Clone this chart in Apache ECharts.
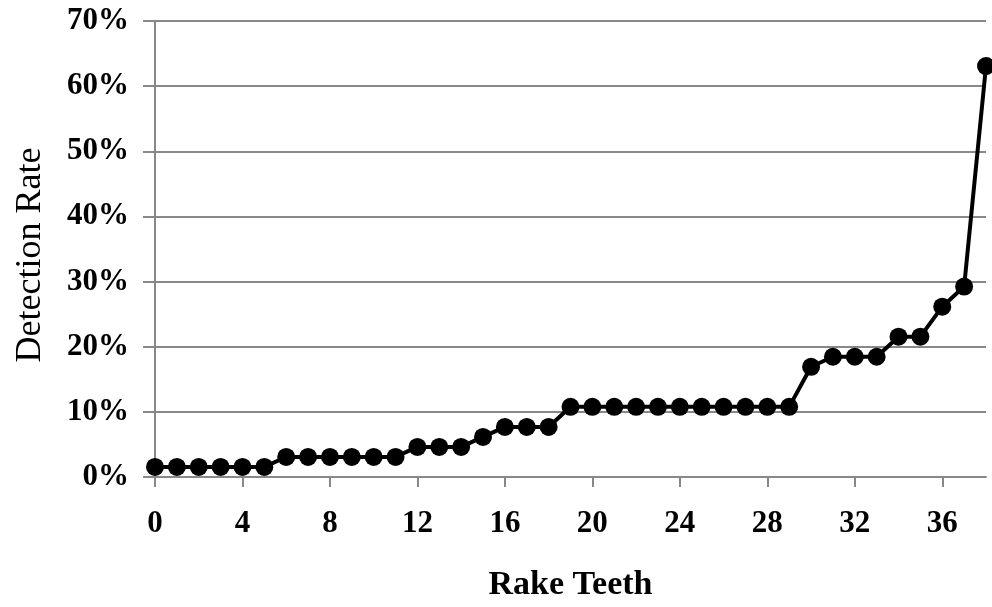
<!DOCTYPE html>
<html>
<head>
<meta charset="utf-8">
<script src="https://cdn.jsdelivr.net/npm/echarts@6/dist/echarts.min.js"></script>
<style>
html,body{margin:0;padding:0;background:#fff;}
#chart{width:992px;height:607px;}
</style>
</head>
<body>
<div id="chart"></div>
<script>
var categories = ['0','1','2','3','4','5','6','7','8','9','10','11','12','13','14','15','16','17','18','19','20','21','22','23','24','25','26','27','28','29','30','31','32','33','34','35','36','37','38'];
var detectionRate = [1.54,1.54,1.54,1.54,1.54,1.54,3.08,3.08,3.08,3.08,3.08,3.08,4.62,4.62,4.62,6.15,7.69,7.69,7.69,10.77,10.77,10.77,10.77,10.77,10.77,10.77,10.77,10.77,10.77,10.77,16.92,18.46,18.46,18.46,21.54,21.54,26.15,29.23,63.08];
var xTitle = 'Rake Teeth';
var yTitle = 'Detection Rate';

var gray = '#888888';
var font = '"Liberation Serif", "Times New Roman", serif';
var chart = echarts.init(document.getElementById('chart'));
chart.setOption({
  animation: false,
  backgroundColor: '#ffffff',
  grid: {left: 155, right: 6, top: 21, bottom: 128, containLabel: false},
  xAxis: {
    type: 'category',
    data: categories,
    boundaryGap: false,
    name: xTitle,
    nameLocation: 'middle',
    nameGap: 91,
    nameTextStyle: {fontFamily: font, fontWeight: 'bold', fontSize: 34, color: '#000'},
    axisLine: {show: true, lineStyle: {color: gray, width: 2}},
    axisTick: {show: true, interval: 3, length: 10, lineStyle: {color: gray, width: 2}},
    axisLabel: {interval: 3, margin: 31, fontFamily: font, fontWeight: 'bold', fontSize: 31, color: '#000'},
    splitLine: {show: false}
  },
  yAxis: {
    type: 'value',
    min: 0, max: 70, interval: 10,
    name: yTitle,
    nameLocation: 'middle',
    nameGap: 106,
    nameRotate: 90,
    nameTextStyle: {fontFamily: font, fontWeight: 'normal', fontSize: 36, color: '#000', padding: [0, 12, 0, 0]},
    axisLine: {show: true, lineStyle: {color: gray, width: 2}},
    axisTick: {show: true, length: 12, lineStyle: {color: gray, width: 2}},
    axisLabel: {formatter: '{value}%', margin: 26, padding: [4, 0, 0, 0], fontFamily: font, fontWeight: 'bold', fontSize: 31, color: '#000'},
    splitLine: {show: true, lineStyle: {color: gray, width: 2}}
  },
  series: [{
    type: 'line',
    data: detectionRate,
    symbol: 'circle',
    symbolSize: 18,
    showAllSymbol: true,
    lineStyle: {color: '#000', width: 4},
    itemStyle: {color: '#000'},
    clip: false
  }]
});
</script>
</body>
</html>
